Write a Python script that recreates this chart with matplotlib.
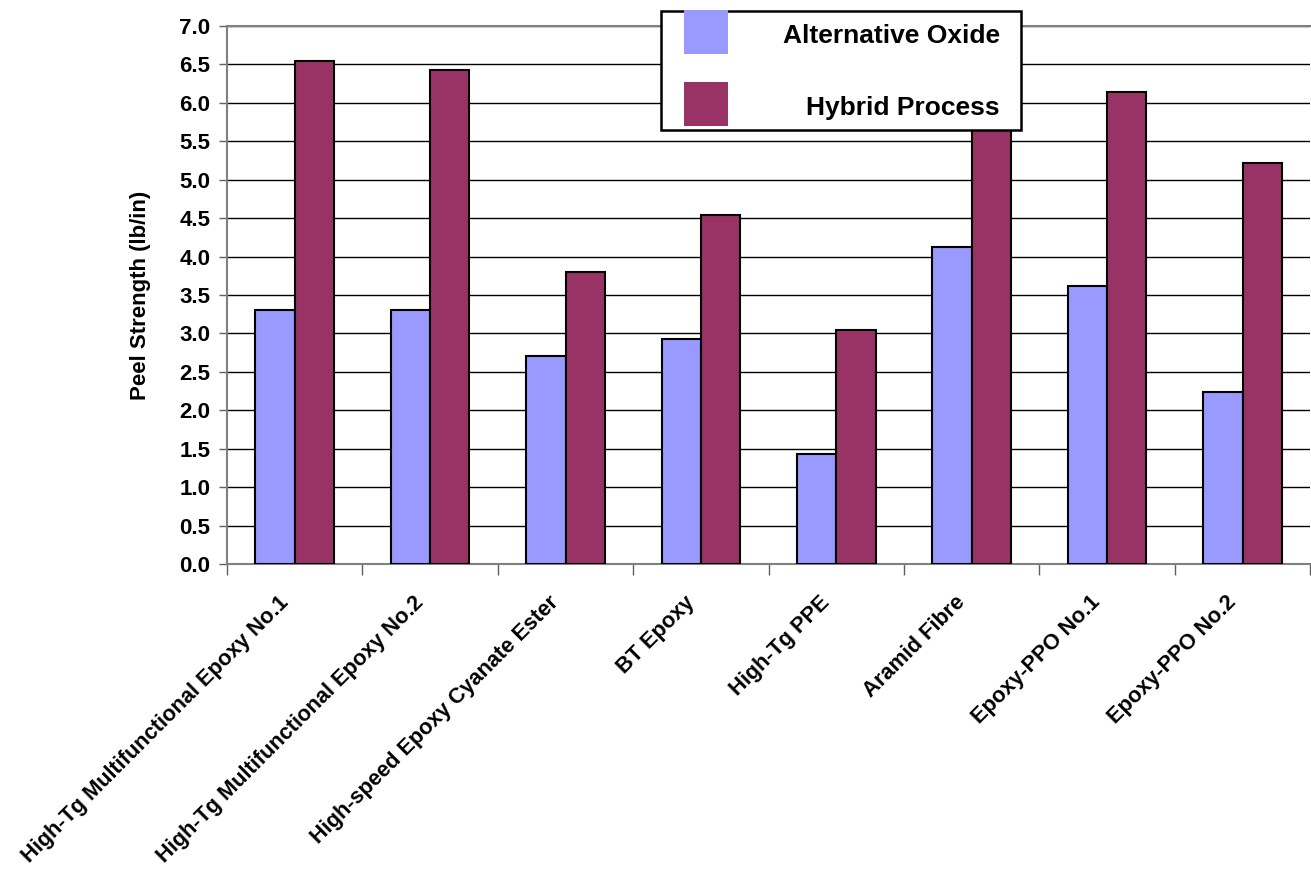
import matplotlib.pyplot as plt
import matplotlib.transforms as mtransforms
import numpy as np
from matplotlib.patches import Rectangle

plt.rcParams['font.family'] = ['Liberation Sans', 'DejaVu Sans']
plt.rcParams['font.weight'] = 'bold'

# data
materials = ['High-Tg Multifunctional Epoxy No.1', 'High-Tg Multifunctional Epoxy No.2',
             'High-speed Epoxy Cyanate Ester', 'BT Epoxy', 'High-Tg PPE',
             'Aramid Fibre', 'Epoxy-PPO No.1', 'Epoxy-PPO No.2']
alt_oxide = [3.30, 3.30, 2.70, 2.93, 1.43, 4.13, 3.62, 2.24]
hybrid = [6.55, 6.43, 3.80, 4.54, 3.04, 6.30, 6.14, 5.22]
series_names = ['Alternative Oxide', 'Hybrid Process']
colors = ['#9999FF', '#993366']

fig = plt.figure(figsize=(13.11, 8.74), dpi=100)
ax = fig.add_axes([0.1732, 0.3547, 0.8262, 0.6156])

x = np.arange(len(materials))
w = 0.29
ax.bar(x - w/2, alt_oxide, w, color=colors[0], edgecolor='black', linewidth=1.5, zorder=3)
ax.bar(x + w/2, hybrid, w, color=colors[1], edgecolor='black', linewidth=1.5, zorder=3)

ax.set_xlim(-0.5, len(materials) - 0.5)
ax.set_ylim(0, 7)
yt = np.arange(0, 7.01, 0.5)
ax.set_yticks(yt)
ax.set_yticklabels([f'{v:.1f}' for v in yt], fontsize=16, fontweight='bold')
ax.yaxis.grid(True, color='black', linewidth=1)
ax.set_axisbelow(True)
ax.tick_params(axis='y', length=6, width=1, color='#606060', pad=6)

# category labels centered, ticks at boundaries
ax.set_xticks(x)
ax.set_xticks(np.arange(-0.5, len(materials)), minor=True)
ax.tick_params(axis='x', which='major', length=0, pad=20)
ax.tick_params(axis='x', which='minor', length=8, width=1, color='#606060')
ax.set_xticklabels(materials, rotation=45, ha='right', va='top',
                   rotation_mode='anchor', fontsize=15.7, fontweight='bold')

for s in ['left', 'bottom', 'top']:
    ax.spines[s].set_color('#808080')
    ax.spines[s].set_linewidth(1.5)
ax.spines['right'].set_visible(False)

ax.set_ylabel('Peel Strength (lb/in)', fontsize=16, fontweight='bold', labelpad=20)

# legend box (drawn by hand so the texts can be right aligned)
W, H = 1311.0, 874.0
fig.add_artist(Rectangle((661 / W, 1 - 130 / H), 360 / W, 119 / H, transform=fig.transFigure,
                         facecolor='white', edgecolor='black', linewidth=1.8, zorder=10))
ys = [32, 104]
for name, c, yc in zip(series_names, colors, ys):
    fig.add_artist(Rectangle((684 / W, 1 - (yc + 22) / H), 44 / W, 44 / H, transform=fig.transFigure,
                             facecolor=c, edgecolor='none', zorder=11))
    fig.text(1000 / W, 1 - (yc + 4) / H, name, ha='right', va='center',
             fontsize=19, fontweight='bold', zorder=12)

# nudge the rotated labels a little to the left
fig.canvas.draw()
shift = mtransforms.ScaledTranslation(-17 / 100, 0, fig.dpi_scale_trans)
for lab in ax.xaxis.get_majorticklabels():
    lab.set_transform(lab.get_transform() + shift)

fig.savefig('out.png', dpi=100)
